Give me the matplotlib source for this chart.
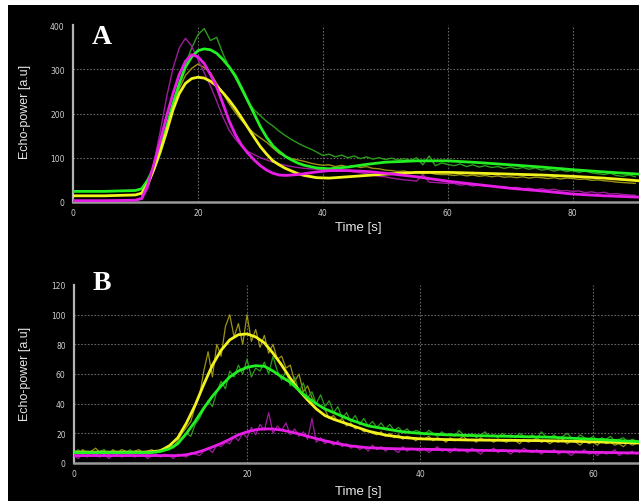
import numpy as np
import matplotlib
matplotlib.use("Agg")
import matplotlib.pyplot as plt
from matplotlib.patches import Rectangle

# ---- panel A : fitted curves ----
tA_fit = [0, 5, 10, 11, 12, 13, 14, 15, 16, 17, 18, 19, 20, 21, 22, 23, 24, 25,
          26, 27, 28, 29, 30, 31, 32, 33, 34, 35, 36, 37, 39, 41, 44, 47, 50,
          55, 60, 65, 70, 75, 80, 85, 90.6]
greenA_fit = [24, 24, 26, 30, 50, 80, 122, 170, 222, 267, 305, 328, 342, 346, 344,
              336, 322, 305, 285, 257, 228, 199, 170, 146, 127, 114, 103, 95, 88,
              83, 77, 75, 79, 85, 90, 93, 93, 89, 84, 79, 73, 68, 63]
yellowA_fit = [14, 14, 16, 20, 42, 76, 116, 160, 208, 245, 268, 279, 282, 280, 273,
               262, 247, 230, 211, 190, 168, 146, 125, 108, 93, 84, 76, 70, 64,
               60, 55, 54, 57, 60, 63, 67, 67, 65, 63, 61, 58, 54, 48]
magentaA_fit = [3, 3, 4, 8, 40, 88, 140, 195, 245, 288, 318, 333, 328, 313, 288,
                260, 222, 183, 152, 128, 110, 95, 82, 72, 65, 61, 60, 61, 62,
                64, 68, 71, 71, 69, 65, 57, 47, 39, 31, 25, 18, 14, 11]

# ---- panel A : raw traces, 1 s steps from 11 s to 90 s ----
tA_raw = list(range(11, 91))
greenA_raw = [28, 42, 72, 108, 155, 215, 268, 312, 348, 378,
              392, 365, 372, 335, 305, 280, 252, 226, 208, 195,
              182, 172, 160, 150, 141, 133, 126, 120, 113, 105,
              108, 102, 106, 100, 104, 98, 102, 97, 100, 96,
              99, 95, 98, 94, 100, 84, 104, 82, 88, 85,
              82, 86, 80, 84, 79, 82, 78, 80, 76, 79,
              75, 78, 74, 77, 72, 74, 70, 73, 69, 71,
              67, 70, 66, 64, 62, 65, 60, 58, 61, 57]
yellowA_raw = [16, 36, 72, 118, 168, 218, 256, 286, 302, 312,
               304, 292, 268, 246, 222, 202, 184, 168, 155, 145,
               135, 122, 110, 103, 98, 95, 92, 88, 85, 83,
               84, 80, 83, 79, 82, 78, 80, 76, 75, 72,
               71, 69, 70, 67, 66, 64, 66, 63, 62, 62,
               60, 62, 59, 61, 58, 60, 57, 59, 56, 57,
               55, 57, 54, 56, 55, 53, 55, 52, 54, 53,
               51, 52, 49, 50, 48, 47, 45, 44, 43, 42]
magentaA_raw = [6, 30, 92, 162, 238, 302, 348, 370, 352, 322,
                292, 262, 228, 192, 162, 142, 126, 114, 107, 100,
                95, 90, 86, 83, 80, 78, 76, 75, 74, 73,
                74, 71, 73, 70, 68, 66, 64, 61, 58, 57,
                54, 52, 50, 49, 47, 62, 45, 44, 43, 42,
                42, 38, 40, 36, 39, 35, 37, 33, 35, 32,
                33, 30, 31, 28, 30, 27, 29, 25, 26, 24,
                25, 21, 23, 20, 22, 18, 19, 17, 16, 15]

# ---- panel B : fitted curves ----
tB_fit = [0, 5, 8, 9, 10, 11, 12, 13, 14, 15, 16, 17, 18, 19, 20, 21, 22, 23, 24,
          25, 26, 27, 28, 29, 30, 31, 32, 34, 36, 38, 40, 43, 46, 50, 55, 60, 65.3]
yellowB_fit = [7.3, 7.3, 7.3, 7.6, 8.3, 11.5, 17, 27, 39, 53, 66, 76, 83, 86.5, 87,
               85, 81, 74, 66, 57, 49, 42.5, 36.5, 32, 29.5, 27.5, 25.5, 21.5,
               18.8, 17.2, 16.3, 15.8, 15.5, 15.3, 15, 14.3, 13.5]
greenB_fit = [7, 7, 7, 7, 7.8, 9.5, 13, 20, 28, 37, 45, 52, 58, 62, 64.5, 65.6,
              65.2, 62, 58, 54.4, 49, 44, 40, 36.5, 34, 31.5, 29, 25, 23, 21, 20,
              19, 18.5, 18, 17.4, 16, 14.4]
magentaB_fit = [5, 5, 5, 5, 5, 5, 5, 5.6, 6.8, 8.6, 10.8, 13.2, 16, 19, 21, 22.4,
                23, 22.9, 22.2, 21, 19.6, 18, 16.4, 15, 13.6, 12.5, 11.5, 10.3,
                9.8, 9.5, 9.3, 9, 8.6, 8.3, 7.7, 7.2, 6.7]

# ---- panel B : raw traces, 0.5 s steps from 0 to 65 s ----
tB_raw = [i * 0.5 for i in range(131)]
yellowB_raw = [8, 6, 9, 7, 8, 10, 7, 8, 6, 9,
               7, 9, 8, 6, 8, 9, 7, 8, 9, 7,
               9, 10, 12, 11, 15, 20, 24, 28, 38, 45,
               62, 75, 58, 80, 72, 92, 100, 85, 94, 80,
               100, 82, 90, 78, 86, 74, 80, 70, 72, 64,
               66, 55, 60, 48, 52, 44, 40, 38, 36, 30,
               32, 28, 30, 25, 27, 23, 24, 21, 22, 20,
               19, 21, 18, 20, 17, 19, 16, 18, 17, 15,
               17, 16, 18, 15, 17, 16, 14, 17, 15, 16,
               18, 15, 16, 14, 17, 15, 16, 14, 16, 15,
               14, 16, 15, 13, 16, 14, 15, 17, 14, 15,
               13, 15, 14, 16, 13, 15, 14, 12, 15, 13,
               14, 12, 15, 13, 14, 12, 13, 11, 14, 12,
               13]
greenB_raw = [7, 9, 6, 8, 7, 5, 8, 9, 6, 7,
              8, 6, 7, 9, 6, 8, 7, 6, 8, 7,
              8, 9, 11, 10, 14, 17, 20, 18, 26, 30,
              36, 42, 38, 48, 55, 50, 62, 58, 66, 60,
              70, 58, 64, 62, 68, 60, 72, 62, 56, 62,
              52, 58, 48, 54, 44, 48, 40, 46, 38, 42,
              34, 38, 30, 34, 28, 32, 26, 30, 25, 28,
              24, 27, 23, 26, 22, 24, 21, 23, 20, 22,
              21, 19, 22, 20, 18, 21, 19, 20, 18, 22,
              19, 18, 20, 17, 19, 21, 18, 19, 17, 20,
              18, 19, 17, 20, 18, 17, 19, 16, 21, 18,
              17, 19, 16, 18, 20, 17, 16, 19, 17, 16,
              18, 15, 17, 16, 18, 15, 16, 17, 14, 16,
              15]
magentaB_raw = [5, 3, 6, 4, 7, 5, 4, 6, 3, 5,
                6, 4, 5, 7, 4, 5, 6, 3, 5, 6,
                4, 6, 5, 3, 6, 5, 4, 7, 6, 5,
                8, 10, 7, 12, 11, 14, 13, 18, 15, 20,
                17, 24, 19, 26, 22, 34, 20, 25, 22, 27,
                19, 23, 18, 21, 16, 30, 14, 17, 13, 15,
                12, 15, 11, 13, 10, 12, 9, 11, 8, 12,
                9, 11, 8, 10, 9, 7, 11, 8, 10, 9,
                8, 10, 7, 9, 11, 8, 9, 7, 10, 8,
                9, 7, 10, 8, 6, 9, 8, 10, 7, 9,
                8, 6, 9, 7, 10, 8, 7, 9, 6, 8,
                7, 9, 6, 8, 7, 5, 8, 7, 9, 6,
                7, 5, 8, 6, 7, 9, 5, 7, 6, 8,
                6]

xticksA = [0, 20, 40, 60, 80]
yticksA = [0, 100, 200, 300, 400]
xticksB = [0, 20, 40, 60]
yticksB = [0, 20, 40, 60, 80, 100, 120]

fit_colors = {'green': '#22f022', 'yellow': '#f2f21e', 'magenta': '#e61ee6'}
raw_colors = {'green': '#2c9a1c', 'yellow': '#9a9212', 'magenta': '#9c1c9c'}

W, H = 639, 502
fig = plt.figure(figsize=(W / 100, H / 100), dpi=100, facecolor='white')
fig.add_artist(Rectangle((8 / W, 0), 1, 1 - 6 / H, transform=fig.transFigure,
                         facecolor='black', edgecolor='none', zorder=-5))


def style_axes(ax, xt, yt, xmax):
    ax.set_facecolor('black')
    ax.set_xlim(0, xmax)
    ax.set_ylim(0, yt[-1])
    ax.set_xticks(xt)
    ax.set_yticks(yt)
    for s in ['top', 'right']:
        ax.spines[s].set_visible(False)
    ax.spines['left'].set_color('#b4b4b4')
    ax.spines['left'].set_linewidth(1.6)
    ax.spines['bottom'].set_color('#9a9a9a')
    ax.spines['bottom'].set_linewidth(1.8)
    ax.tick_params(axis='both', length=0, labelcolor='#cfcfcf', labelsize=5.5)
    ax.tick_params(axis='y', pad=6)
    ax.tick_params(axis='x', pad=4)
    for v in xt[1:]:
        ax.axvline(v, color='#666666', lw=0.8, ls=(0, (1.5, 1.5)), zorder=0)
    for v in yt[1:-1]:
        ax.axhline(v, color='#666666', lw=0.8, ls=(0, (1.5, 1.5)), zorder=0)


axA = fig.add_axes([73 / W, 1 - 203 / H, 1 - 73 / W, 177 / H])
style_axes(axA, xticksA, yticksA, 90.6)
axA.plot(tA_raw, greenA_raw, color=raw_colors['green'], lw=1.0, zorder=2)
axA.plot(tA_raw, yellowA_raw, color=raw_colors['yellow'], lw=1.0, zorder=2)
axA.plot(tA_raw, magentaA_raw, color=raw_colors['magenta'], lw=1.0, zorder=2)
axA.plot(tA_fit, greenA_fit, color=fit_colors['green'], lw=2, zorder=3)
axA.plot(tA_fit, yellowA_fit, color=fit_colors['yellow'], lw=2, zorder=3)
axA.plot(tA_fit, magentaA_fit, color=fit_colors['magenta'], lw=2, zorder=3)

axB = fig.add_axes([74 / W, 1 - 464 / H, 1 - 74 / W, 178 / H])
style_axes(axB, xticksB, yticksB, 65.3)
axB.plot(tB_raw, yellowB_raw, color=raw_colors['yellow'], lw=0.9, zorder=2)
axB.plot(tB_raw, greenB_raw, color=raw_colors['green'], lw=0.9, zorder=2)
axB.plot(tB_raw, magentaB_raw, color=raw_colors['magenta'], lw=0.9, zorder=2)
axB.plot(tB_fit, yellowB_fit, color=fit_colors['yellow'], lw=2, zorder=3)
axB.plot(tB_fit, greenB_fit, color=fit_colors['green'], lw=2, zorder=3)
axB.plot(tB_fit, magentaB_fit, color=fit_colors['magenta'], lw=2, zorder=3)

# labels
for ycen in [112, 374]:
    fig.text(25 / W, 1 - ycen / H, 'Echo-power [a.u]', rotation=90, ha='center',
             va='center', color='#e6e6e6', fontsize=9, family='Liberation Sans')
for ycen in [228, 492]:
    fig.text(358 / W, 1 - ycen / H, 'Time [s]', ha='center', va='center',
             color='#e6e6e6', fontsize=9.5, family='Liberation Sans')
for lab, ycen in [('A', 38), ('B', 284)]:
    fig.text(102 / W, 1 - ycen / H, lab, ha='center', va='center', color='white',
             fontsize=20, fontweight='bold', family='Liberation Serif')

fig.savefig('out.png', dpi=100, facecolor='white')
